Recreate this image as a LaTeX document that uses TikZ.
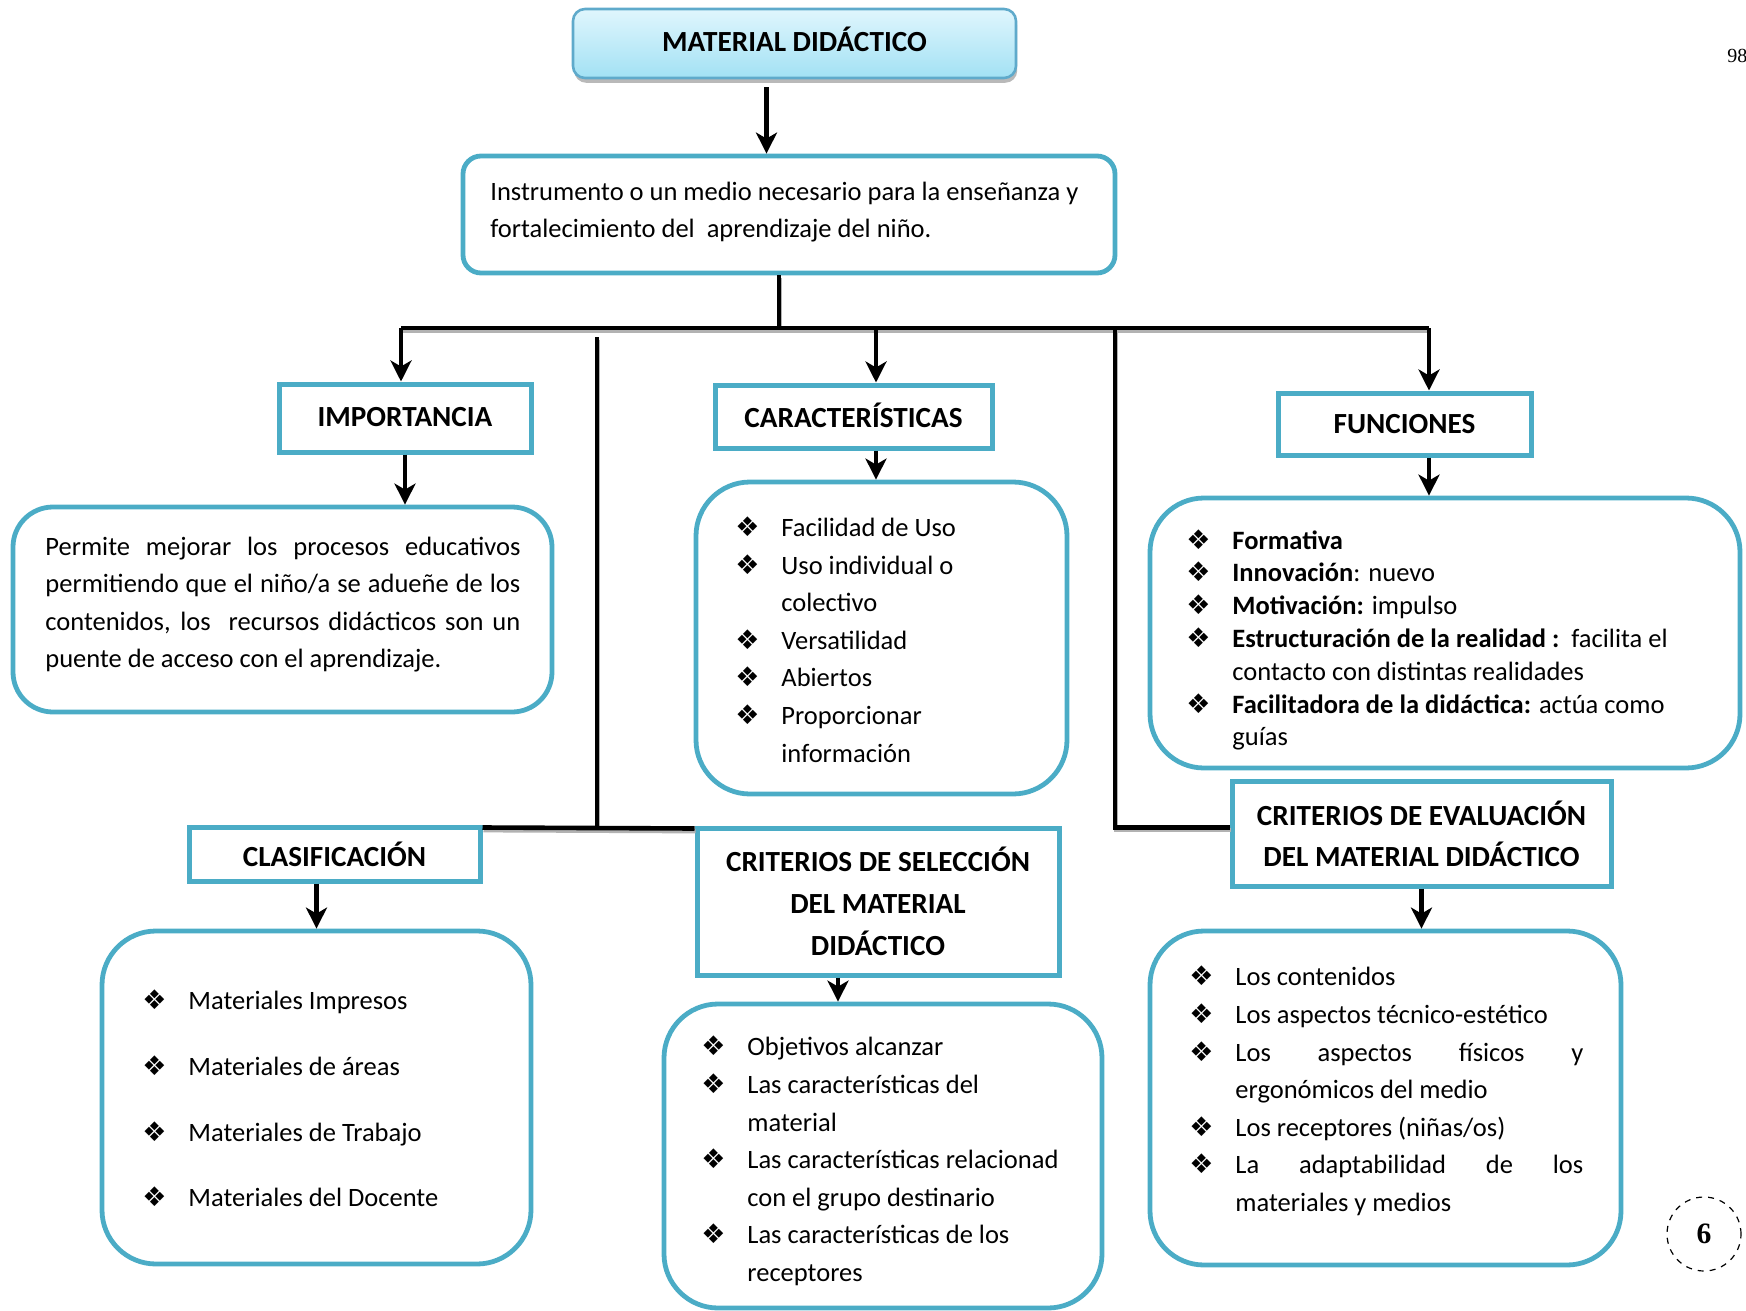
\documentclass[tikz,border=0pt]{standalone}
\usepackage{fontspec}
\setmainfont{Carlito}
\newfontfamily\dingfont{DejaVu Sans}
\newfontfamily\pagefont{Liberation Serif}
\usetikzlibrary{arrows.meta,shadows}

\definecolor{boxblue}{HTML}{4BACC6}
\definecolor{titleedge}{HTML}{5FAACB}
\definecolor{titletop}{HTML}{E0F6FD}
\definecolor{titlebot}{HTML}{A2E1F4}

% bullet and hanging indent for the lists
\newcommand{\blt}{\makebox[23pt][l]{\dingfont\fontsize{13.5}{13.5}\selectfont ❖}}
\newcommand{\ind}{\hspace*{23pt}}
\newcommand{\jline}[2]{\makebox[#1][s]{#2}}

\tikzset{
  titlebox/.style={draw=titleedge, line width=1.3pt, rounded corners=6pt,
    top color=titletop, bottom color=titlebot,
    drop shadow={shadow xshift=0.6pt, shadow yshift=-2.4pt, fill=gray, opacity=0.55},
    font=\fontsize{14.6}{21}\selectfont\bfseries, inner sep=0pt},
  head/.style={draw=boxblue, line width=2.5pt, inner sep=0pt,
    font=\fontsize{14.6}{21}\selectfont\bfseries, align=center},
  panel/.style={draw=boxblue, line width=2.4pt, rounded corners=27pt, inner sep=0pt},
  body/.style={font=\fontsize{13.25}{18.8}\selectfont, align=left, inner sep=0pt, anchor=west},
  link/.style={line width=2.3pt, black,
    preaction={draw=gray!60, line width=2.3pt, transform canvas={xshift=0.5pt, yshift=-1.3pt}}},
  arr/.style={line width=2.2pt, -{Stealth[length=10.5pt,width=10.5pt,inset=3pt]}},
}

\begin{document}
\begin{tikzpicture}[x=0.5pt, y=-0.5pt]
\useasboundingbox (0,0) rectangle (1746,1311);

% top of the map
\node[titlebox, minimum width=221.5pt, minimum height=34.5pt] (title) at (794.5,43.5) {\raisebox{4.5pt}{MATERIAL DIDÁCTICO}};
\node[panel, rounded corners=9pt, minimum width=326pt, minimum height=58.5pt] (def) at (789,214.5) {};
\node[body] (defTxt) at (490,212) {Instrumento o un medio necesario para la enseñanza y\\
  fortalecimiento del\ \ aprendizaje del niño.};

% headings
\node[head, minimum width=126pt, minimum height=34pt] (imp) at (405,418) {\raisebox{1pt}{IMPORTANCIA}};
\node[head, minimum width=138.5pt, minimum height=31.5pt] (car) at (853.5,416.5) {\raisebox{1pt}{CARACTERÍSTICAS}};
\node[head, minimum width=126.5pt, minimum height=31pt] (fun) at (1404.5,424) {FUNCIONES};
\node[head, minimum width=145.5pt, minimum height=27pt] (cla) at (334.5,854) {CLASIFICACIÓN};
\node[head, minimum width=181pt, minimum height=73.5pt] (sel) at (878,901.5) {CRITERIOS DE SELECCIÓN\\DEL MATERIAL\\DIDÁCTICO};
\node[head, minimum width=189.5pt, minimum height=52.5pt] (eva) at (1421.5,833.5) {CRITERIOS DE EVALUACIÓN\\[-0.5pt]DEL MATERIAL DIDÁCTICO};

% panels
\node[panel, rounded corners=20pt, minimum width=269.5pt, minimum height=102.5pt] (impBox) at (282.5,609.5) {};
\node[panel, minimum width=185.5pt, minimum height=156pt] (carBox) at (881.5,638) {};
\node[panel, minimum width=295pt, minimum height=135pt] (funBox) at (1445,633) {};
\node[panel, minimum width=214.5pt, minimum height=166.5pt] (claBox) at (316.5,1097.5) {};
\node[panel, minimum width=219pt, minimum height=152pt] (selBox) at (883,1156) {};
\node[panel, minimum width=235.5pt, minimum height=167pt] (evaBox) at (1385.5,1098) {};

\node[body] (impTxt) at (45,604.5) {\jline{237.5pt}{Permite mejorar los procesos educativos}\\
  \jline{237.5pt}{permitiendo que el niño/a se adueñe de los}\\
  \jline{237.5pt}{contenidos, los\ \ recursos didácticos son un}\\
  puente de acceso con el aprendizaje.};
\node[body] (carTxt) at (735,639.5) {\blt Facilidad de Uso\\ \blt Uso individual o\\ \ind colectivo\\
  \blt Versatilidad\\ \blt Abiertos\\ \blt Proporcionar\\ \ind información};
\node[body, font=\fontsize{13.25}{16.4}\selectfont] (funTxt) at (1186,640) {\blt\textbf{Formativa}\\
  \blt\textbf{Innovación}: nuevo\\
  \blt\textbf{Motivación:} impulso\\
  \blt\textbf{Estructuración de la realidad :}\ \ facilita el\\
  \ind contacto con distintas realidades\\
  \blt\textbf{Facilitadora de la didáctica:} actúa como\\
  \ind guías};
\node[body, font=\fontsize{13.25}{32.8}\selectfont] (claTxt) at (142,1098.5) {\blt Materiales Impresos\\
  \blt Materiales de áreas\\ \blt Materiales de Trabajo\\ \blt Materiales del Docente};
\node[body] (selTxt) at (701,1161) {\blt Objetivos alcanzar\\ \blt Las características del\\ \ind material\\
  \blt Las características relacionad\\ \ind con el grupo destinario\\
  \blt Las características de los\\ \ind receptores};
\node[body] (evaTxt) at (1189,1091) {\blt Los contenidos\\ \blt Los aspectos técnico-estético\\
  \blt\jline{174pt}{Los aspectos físicos y}\\ \ind ergonómicos del medio\\
  \blt Los receptores (niñas/os)\\
  \blt\jline{174pt}{La adaptabilidad de los}\\ \ind materiales y medios};

% connectors
\coordinate (jdef) at (779,328);
\coordinate (busL) at (401,328);
\coordinate (busC) at (876,328);
\coordinate (busR) at (1429,328);
\coordinate (jL) at (597,337);
\coordinate (jR) at (1115,328);

\draw[arr] ([xshift=-14pt,yshift=-4pt]title.south) -- ([xshift=-14pt]title.south |- def.north);
\draw[link] (def.south -| jdef) -- (jdef);
\draw[link] (busL) -- (busR);
\draw[arr] (busL) -- (busL |- imp.north);
\draw[arr] (busC) -- (busC |- car.north);
\draw[arr] (busR) -- (busR |- fun.north);
\draw[link] (jL) -- ([yshift=-1.5pt]jL |- cla.north);
\draw[link] ([yshift=-1.5pt]cla.north east) -- ([yshift=-1.5pt]sel.north west);
\draw[link] (jR) |- ([yshift=3pt]eva.west);

\draw[arr] (imp.south) -- (imp.south |- impBox.north);
\draw[arr] (car.south -| busC) -- (busC |- carBox.north);
\draw[arr] (fun.south -| busR) -- (busR |- funBox.north);
\draw[arr] (cla.south -| claBox.north) -- (claBox.north);
\draw[arr] ([xshift=-20pt]sel.south) -- ([xshift=-20pt]sel.south |- selBox.north);
\draw[arr] (eva.south) -- (eva.south |- evaBox.north);

% page marks
\node[anchor=west, inner sep=0pt, font=\pagefont\fontsize{10}{10}\selectfont] (pgnum) at (1727,56) {98};
\node[draw, dashed, circle, line width=0.6pt, minimum size=37pt, inner sep=0pt,
  font=\pagefont\bfseries\fontsize{14.8}{15}\selectfont] (sheet) at (1704,1234) {6};
\end{tikzpicture}
\end{document}
